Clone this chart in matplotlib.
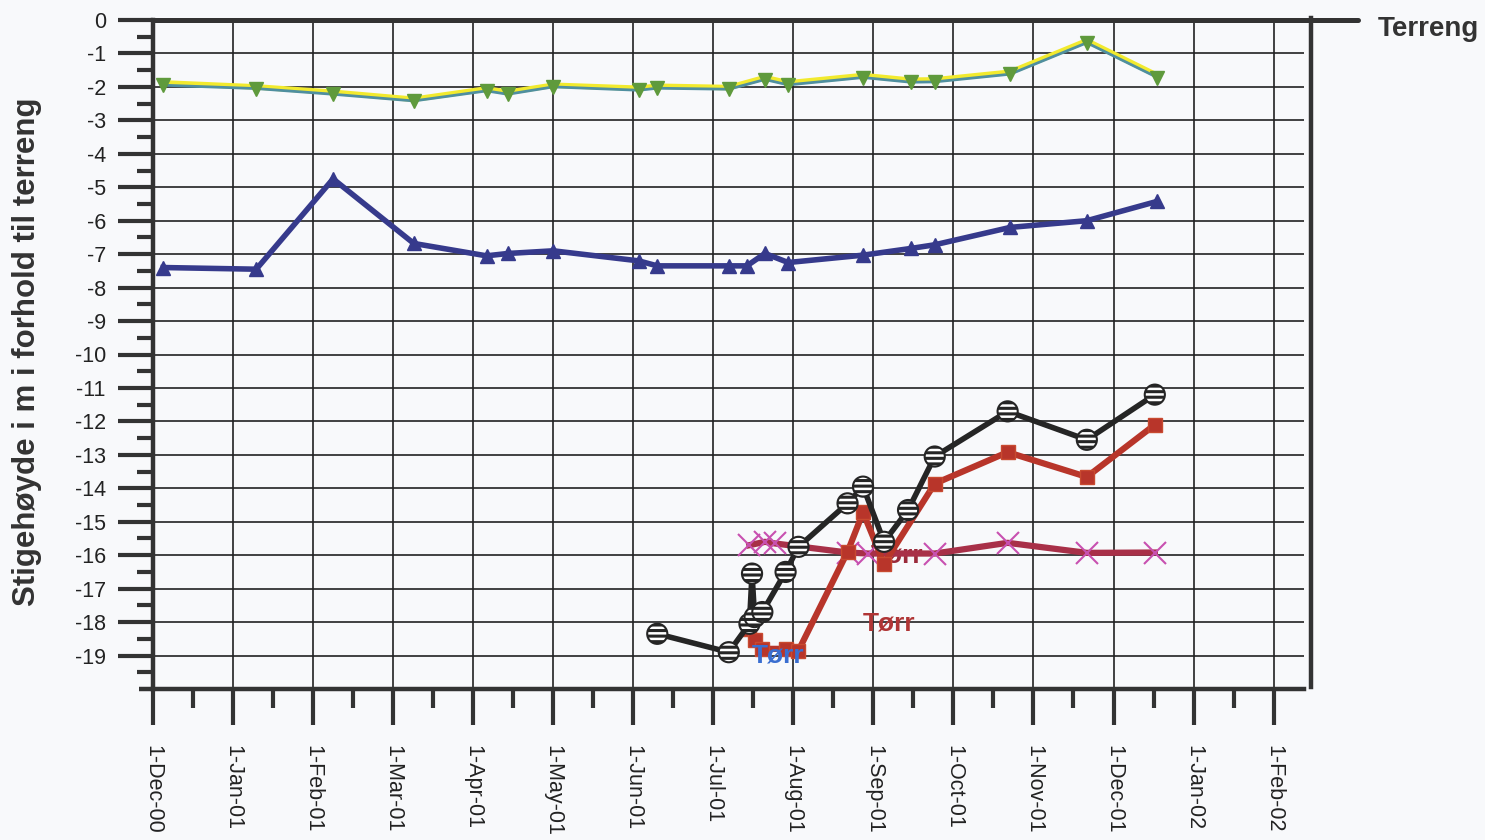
import calendar
import matplotlib
matplotlib.use("Agg")
import matplotlib.pyplot as plt

plt.rcParams['font.family'] = ['Liberation Sans', 'DejaVu Sans']
plt.rcParams['hatch.linewidth'] = 2.2

# ---------------- data ----------------
month_labels = ['1-Dec-00', '1-Jan-01', '1-Feb-01', '1-Mar-01', '1-Apr-01', '1-May-01',
                '1-Jun-01', '1-Jul-01', '1-Aug-01', '1-Sep-01', '1-Oct-01', '1-Nov-01',
                '1-Dec-01', '1-Jan-02', '1-Feb-02']
y_tick_values = list(range(0, -20, -1))

green_dates = ['2000-12-05', '2001-01-10', '2001-02-08', '2001-03-09', '2001-04-06', '2001-04-14',
               '2001-05-01', '2001-06-03', '2001-06-10', '2001-07-07', '2001-07-21', '2001-07-30',
               '2001-08-28', '2001-09-15', '2001-09-24', '2001-10-23', '2001-11-21', '2001-12-18']
green_vals = [-1.95, -2.05, -2.22, -2.42, -2.12, -2.22, -2.0, -2.1, -2.04, -2.07, -1.78, -1.94,
              -1.72, -1.86, -1.85, -1.62, -0.68, -1.72]
yellow_vals = [-1.88, -2.0, -2.16, -2.37, -2.06, -2.16, -1.95, -2.04, -1.98, -2.02, -1.72, -1.88,
               -1.66, -1.8, -1.79, -1.56, -0.62, -1.66]

blue_dates = ['2000-12-05', '2001-01-10', '2001-02-08', '2001-03-09', '2001-04-06', '2001-04-14',
              '2001-05-01', '2001-06-03', '2001-06-10', '2001-07-07', '2001-07-14', '2001-07-21',
              '2001-07-30', '2001-08-28', '2001-09-15', '2001-09-24', '2001-10-23', '2001-11-21',
              '2001-12-18']
blue_vals = [-7.4, -7.45, -4.75, -6.68, -7.05, -6.98, -6.9, -7.2, -7.35, -7.35, -7.35, -6.98,
             -7.25, -7.03, -6.83, -6.72, -6.2, -6.0, -5.42]

black_dates = ['2001-06-10', '2001-07-07', '2001-07-15', '2001-07-16', '2001-07-17', '2001-07-20',
               '2001-07-29', '2001-08-03', '2001-08-22', '2001-08-28', '2001-09-05', '2001-09-14',
               '2001-09-24', '2001-10-22', '2001-11-21', '2001-12-17']
black_vals = [-18.35, -18.9, -18.05, -16.55, -17.85, -17.7, -16.5, -15.75, -14.45, -13.95,
              -15.6, -14.65, -13.05, -11.7, -12.55, -11.2]

red_dates = ['2001-07-15', '2001-07-17', '2001-07-20', '2001-07-29', '2001-08-03', '2001-08-22',
             '2001-08-28', '2001-09-05', '2001-09-24', '2001-10-22', '2001-11-21', '2001-12-17']
red_vals = [-18.2, -18.55, -18.8, -18.8, -18.85, -15.9, -14.72, -16.25, -13.86, -12.92, -13.66,
            -12.1]

xser_dates = ['2001-07-15', '2001-07-21', '2001-07-25', '2001-08-22', '2001-08-30', '2001-09-24',
              '2001-10-22', '2001-11-21', '2001-12-17']
xser_vals = [-15.7, -15.6, -15.65, -15.92, -15.95, -15.95, -15.63, -15.93, -15.92]

label_text = 'Tørr'
ylabel_text = 'Stigehøyde i m i forhold til terreng'
terreng_text = 'Terreng'


def mpos(d):
    y, m, day = (int(p) for p in d.split('-'))
    ndays = calendar.monthrange(y, m)[1]
    return (y - 2000) * 12 + (m - 12) + (day - 1) / ndays


def conv(dates):
    return [mpos(d) for d in dates]


# ---------------- figure ----------------
W, H = 1485, 840
bg = '#f8f9fb'
fig = plt.figure(figsize=(W / 100, H / 100), dpi=100, facecolor=bg)
ax = fig.add_axes([153 / W, 1 - 689 / H, (1304 - 153) / W, (689 - 20) / H])
ax.set_facecolor(bg)

dark = '#333333'
ax.set_xlim(0, 14.38)
ax.set_ylim(-20, 0)

ax.set_xticks(range(len(month_labels)))
ax.set_xticklabels(month_labels, rotation=-90)
ax.set_xticks([i + 0.5 for i in range(len(month_labels) - 1)], minor=True)
ax.set_yticks(y_tick_values)
ax.set_yticklabels([str(v) for v in y_tick_values])
ax.set_yticks([v - 0.5 for v in y_tick_values], minor=True)

ax.tick_params(axis='x', which='major', length=26, width=3, color=dark, pad=14,
               direction='out', labelsize=15.5, labelcolor='#222222')
ax.tick_params(axis='x', which='minor', length=14, width=3, color=dark, direction='out')
ax.tick_params(axis='y', which='major', length=25, width=3, color=dark, pad=9,
               direction='out', labelsize=15.5, labelcolor='#222222')
ax.tick_params(axis='y', which='minor', length=11.5, width=3, color=dark, direction='out')
for lab in ax.get_xticklabels():
    lab.set_va('top')
    lab.set_ha('center')

ax.grid(True, which='major', color='#222222', linewidth=1.2)
ax.set_axisbelow(True)

for s in ['left', 'bottom']:
    ax.spines[s].set_linewidth(3.2)
    ax.spines[s].set_color(dark)
ax.spines['top'].set_visible(False)
ax.spines['right'].set_linewidth(3.2)
ax.spines['right'].set_color(dark)
ax.spines['right'].set_position(('outward', 5))
ax.spines['right'].set_bounds(-19.95, 0.05)

# extend bottom axis line slightly left of the y axis
ax.plot([-0.012, 0.0], [0, 0], transform=ax.transAxes, color=dark, lw=3.2,
        clip_on=False, solid_capstyle='butt')

# Terreng line at 0 extending beyond the plot area
ax.plot([0, 1.047], [0, 0], transform=ax.get_yaxis_transform(), color=dark, lw=3.6,
        clip_on=False, solid_capstyle='round', zorder=6)
fig.text(1378 / W, 1 - 29 / H, terreng_text, fontsize=20, fontweight='bold',
         color='#333333', ha='left', va='center')

# series
ax.plot(conv(green_dates), yellow_vals, color='#f2ea2e', lw=4, zorder=3, clip_on=False)
ax.plot(conv(green_dates), green_vals, color='#4f8fa0', lw=2, marker='v', markersize=10,
        markerfacecolor='#5f9a3c', markeredgecolor='#5f9a3c', zorder=4, clip_on=False)

ax.plot(conv(blue_dates), blue_vals, color='#363a8c', lw=4, marker='^', markersize=10,
        markerfacecolor='#363a8c', markeredgecolor='#363a8c', zorder=4)

# label partly hidden behind lines
ax.text(mpos('2001-09-10'), -16.0, label_text, fontsize=19, fontweight='bold',
        color='#9a2a3a', ha='center', va='center', zorder=2)

ax.plot(conv(xser_dates), xser_vals, color='#a83048', lw=4.5, marker='x', markersize=16,
        markeredgewidth=1.5, markeredgecolor='#c850b0', zorder=4)

ax.plot(conv(red_dates), red_vals, color='#b8352a', lw=4.5, marker='s', markersize=10,
        markerfacecolor='#b8352a', markeredgecolor='#c84a30', zorder=5)

ax.plot(conv(black_dates), black_vals, color='#252525', lw=4, zorder=6)
ax.scatter(conv(black_dates), black_vals, s=210, facecolor='white', edgecolor='#252525',
           hatch='---', linewidth=1.5, zorder=7)

ax.text(mpos('2001-07-26'), -19.0, label_text, fontsize=19, fontweight='bold',
        color='#3a6ed0', ha='center', va='center', zorder=8)
ax.text(mpos('2001-09-07'), -18.05, label_text, fontsize=19, fontweight='bold',
        color='#b03535', ha='center', va='center', zorder=8)

fig.text(27 / W, 1 - 352 / H, ylabel_text, rotation=90, fontsize=22.5, fontweight='bold',
         color='#333333', ha='center', va='center')

fig.savefig('out.png', dpi=100, facecolor=fig.get_facecolor())
